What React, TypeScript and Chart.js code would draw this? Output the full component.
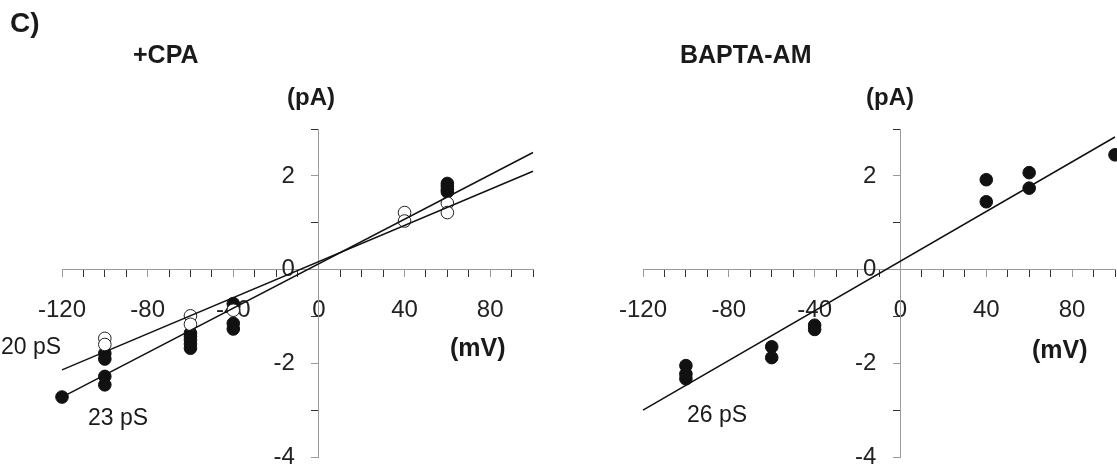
import React, { useEffect, useRef } from "react";
import { Chart, registerables } from "chart.js";

Chart.register(...registerables);

const FONT = "'Liberation Sans', Arial, Helvetica, sans-serif";

// ---- +CPA panel data (mV, pA) ----
const cpaFilledV = [-120, -100, -100, -100, -100, -60, -60, -60, -60, -60, -40, -40, -40, 60, 60, 60, 60];
const cpaFilledI = [-2.71, -1.78, -1.9, -2.27, -2.45, -1.35, -1.42, -1.49, -1.58, -1.67, -0.72, -1.14, -1.26, 1.84, 1.78, 1.71, 1.66];
const cpaOpenV = [-100, -100, -60, -60, -40, 40, 40, 60, 60];
const cpaOpenI = [-1.46, -1.59, -0.98, -1.16, -0.86, 1.22, 1.04, 1.42, 1.22];
const fit23V = [-120, 100];
const fit23I = [-2.71, 2.5];
const fit20V = [-120, 100];
const fit20I = [-2.13, 2.1];

// ---- BAPTA-AM panel data ----
const baptaV = [-100, -100, -100, -60, -60, -40, -40, 40, 40, 60, 60, 100];
const baptaI = [-2.04, -2.22, -2.32, -1.64, -1.87, -1.18, -1.27, 1.92, 1.45, 2.07, 1.74, 2.45];
const fit26V = [-120, 100];
const fit26I = [-2.99, 2.83];

// ---- axes ----
const xMin = -120;
const xMax = 100;
const xStep = 10;
const xLabelEvery = 40;
const yMin = -4;
const yMax = 3;
const yStep = 1;
const yLabelEvery = 2;
const yLabelAnchorMv = -11.2; // where the y tick labels' right edge sits

const zip = (xs: number[], ys: number[]) => xs.map((x, i) => ({ x, y: ys[i] }));

function filled(xs: number[], ys: number[]) {
  return {
    type: "scatter" as const,
    data: zip(xs, ys),
    xAxisID: "x",
    yAxisID: "y",
    pointRadius: 6.3,
    pointBorderWidth: 1,
    pointBackgroundColor: "#111",
    pointBorderColor: "#111",
    showLine: false,
    clip: false as const,
    order: 2,
  };
}
function open(xs: number[], ys: number[]) {
  return {
    type: "scatter" as const,
    data: zip(xs, ys),
    xAxisID: "x",
    yAxisID: "y",
    pointRadius: 6.3,
    pointBorderWidth: 1,
    pointBackgroundColor: "#fff",
    pointBorderColor: "#222",
    showLine: false,
    clip: false as const,
    order: 1,
  };
}
function fit(xs: number[], ys: number[]) {
  return {
    type: "line" as const,
    data: zip(xs, ys),
    xAxisID: "x",
    yAxisID: "y",
    pointRadius: 0,
    borderColor: "#111",
    borderWidth: 1.5,
    fill: false,
    clip: false as const,
    order: 0,
  };
}

function makeOptions(pad: { left: number; right: number; top: number; bottom: number }) {
  const tickCol = (every: number) => (ctx: any) =>
    ctx.tick && Math.abs(ctx.tick.value % every) < 1e-9 ? "#9a9a9a" : "#333";
  const tickFont = { family: FONT, size: 24 };
  return {
    responsive: false,
    animation: false,
    events: [],
    layout: { padding: pad, autoPadding: false },
    plugins: { legend: { display: false }, tooltip: { enabled: false } },
    scales: {
      x: {
        type: "linear",
        position: { y: 0 },
        min: xMin,
        max: xMax,
        grid: {
          drawOnChartArea: false,
          drawTicks: true,
          tickLength: 7,
          tickColor: tickCol(xLabelEvery),
          tickWidth: 1,
        },
        border: { display: true, color: "#9a9a9a", width: 1 },
        ticks: {
          stepSize: xStep,
          autoSkip: false,
          maxRotation: 0,
          padding: 19,
          color: "#222",
          font: tickFont,
          callback: (v: number) => (Math.abs(v % xLabelEvery) < 1e-9 ? String(v) : ""),
        },
      },
      y: {
        type: "linear",
        position: { x: 0 },
        min: yMin,
        max: yMax,
        grid: {
          drawOnChartArea: false,
          drawTicks: true,
          tickLength: 7,
          tickColor: tickCol(yLabelEvery),
          tickWidth: 1,
        },
        border: { display: true, color: "#9a9a9a", width: 1 },
        ticks: { stepSize: yStep, autoSkip: false, display: false },
      },
      yLabels: {
        type: "linear",
        axis: "y",
        position: { x: yLabelAnchorMv },
        min: yMin,
        max: yMax,
        grid: { display: false, drawOnChartArea: false, drawTicks: false },
        border: { display: false },
        ticks: {
          stepSize: yStep,
          autoSkip: false,
          padding: 0,
          color: "#222",
          font: tickFont,
          callback: (v: number) => (Math.abs(v % yLabelEvery) < 1e-9 ? String(v) : ""),
        },
      },
    },
  } as any;
}

function Panel(props: {
  left: number;
  width: number;
  datasets: any[];
  pad: { left: number; right: number; top: number; bottom: number };
}) {
  const ref = useRef<HTMLCanvasElement>(null);
  useEffect(() => {
    if (!ref.current) return;
    const chart = new Chart(ref.current, {
      type: "scatter",
      data: { datasets: props.datasets },
      options: makeOptions(props.pad),
    } as any);
    return () => chart.destroy();
  }, []);
  return (
    <canvas
      ref={ref}
      width={props.width}
      height={472}
      style={{ position: "absolute", left: props.left, top: 0, width: props.width, height: 472 }}
    />
  );
}

const txt = (
  s: string,
  left: number,
  top: number,
  size: number,
  bold: boolean
): React.ReactElement => (
  <div
    key={s + left}
    style={{
      position: "absolute",
      left,
      top,
      fontFamily: FONT,
      fontSize: size,
      lineHeight: 1,
      fontWeight: bold ? 700 : 400,
      color: "#1a1a1a",
      whiteSpace: "nowrap",
    }}
  >
    {s}
  </div>
);

export default function App() {
  const cpaSets = [
    fit(fit23V, fit23I),
    fit(fit20V, fit20I),
    open(cpaOpenV, cpaOpenI),
    filled(cpaFilledV, cpaFilledI),
  ];
  const baptaSets = [fit(fit26V, fit26I), filled(baptaV, baptaI)];
  return (
    <div
      style={{
        position: "fixed",
        left: 0,
        top: 0,
        width: 1117,
        height: 472,
        overflow: "hidden",
        background: "#fff",
      }}
    >
      <Panel left={0} width={560} datasets={cpaSets} pad={{ left: 62, right: 27, top: 129, bottom: 12 }} />
      <Panel left={580} width={560} datasets={baptaSets} pad={{ left: 63, right: 25, top: 129, bottom: 12 }} />
      {txt("C)", 10, 9, 28, true)}
      {txt("+CPA", 133, 42, 25, true)}
      {txt("(pA)", 287, 85, 24, true)}
      {txt("(mV)", 450, 335, 25, true)}
      {txt("20 pS", 1, 335, 23, false)}
      {txt("23 pS", 88, 406, 23, false)}
      {txt("BAPTA-AM", 680, 42, 25, true)}
      {txt("(pA)", 866, 85, 24, true)}
      {txt("(mV)", 1032, 337, 25, true)}
      {txt("26 pS", 687, 403, 23, false)}
    </div>
  );
}
